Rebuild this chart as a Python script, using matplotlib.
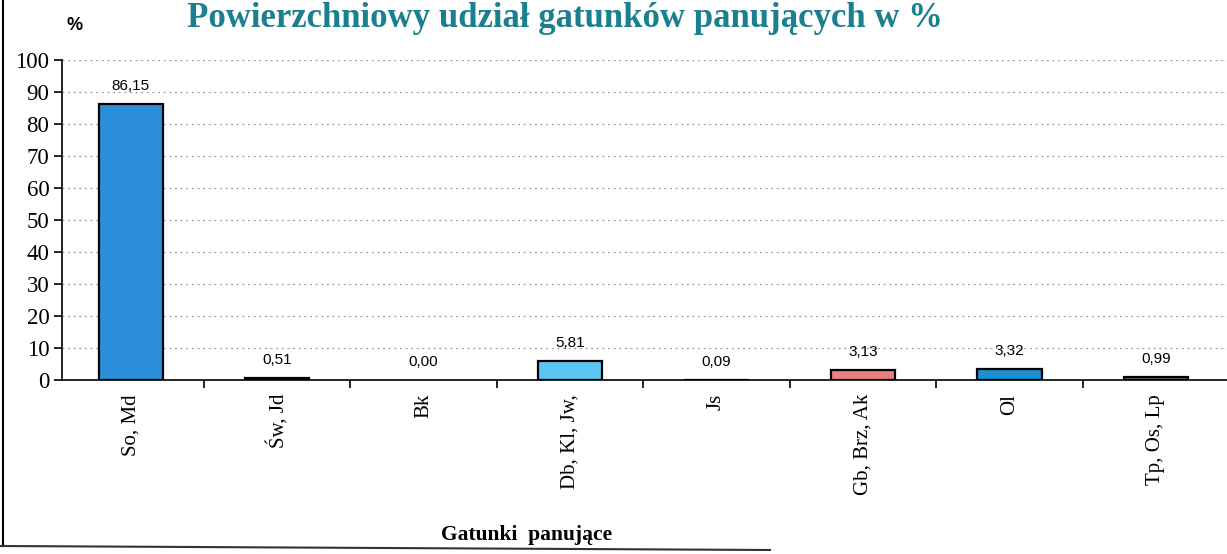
import matplotlib
matplotlib.use('Agg')
import matplotlib.pyplot as plt
from matplotlib.lines import Line2D

# dane z wykresu
gatunki = ['So, Md', 'Św, Jd', 'Bk', 'Db, Kl, Jw,', 'Js', 'Gb, Brz, Ak', 'Ol', 'Tp, Os, Lp']
udzial = [86.15, 0.51, 0.00, 5.81, 0.09, 3.13, 3.32, 0.99]
kolory = ['#2b8fdc', '#555555', '#555555', '#5cc6f0', '#555555', '#ea8080', '#1f8fd2', '#6e6e6e']
yticks = [0, 10, 20, 30, 40, 50, 60, 70, 80, 90, 100]

fig = plt.figure(figsize=(12.27, 5.54), dpi=100)
ax = fig.add_axes([62 / 1227, 1 - 380 / 554, 1167 / 1227, 320 / 554])

x = range(len(gatunki))
edges = [1.6 if v > 0 else 0 for v in udzial]
ax.bar(x, udzial, width=0.44, color=kolory, edgecolor='black', linewidth=edges, zorder=3)

for i, v in zip(x, udzial):
    ax.text(i, v + 3.5, ('%.2f' % v).replace('.', ','), ha='center', va='bottom',
            fontsize=11, family='Liberation Sans', zorder=4)

ax.set_xlim(-0.47, 7.5)
ax.set_ylim(0, 100)
ax.set_yticks(yticks)
ax.set_yticklabels([str(t) for t in yticks], family='Liberation Serif', fontsize=16.5)

# etykiety kategorii, kreski podziałki na granicach
ax.set_xticks([i + 0.5 for i in range(len(gatunki) - 1)])
ax.set_xticklabels([])
ax.set_xticks(list(x), minor=True)
ax.set_xticklabels(gatunki, minor=True, rotation=90, family='Liberation Serif', fontsize=15, va='top')
ax.tick_params(axis='x', which='minor', length=0, pad=10)
ax.tick_params(axis='x', which='major', direction='out', length=6, width=1.2)
ax.tick_params(axis='y', direction='out', length=6, width=1.2, pad=3)

for y in yticks[1:]:
    ax.axhline(y, color='#999999', linestyle=(0, (1.5, 3)), linewidth=0.9, zorder=1)

for s in ['top', 'right']:
    ax.spines[s].set_visible(False)
ax.spines['left'].set_linewidth(1.2)
ax.spines['bottom'].set_linewidth(1.2)

fig.text(565 / 1227, 1 - 2 / 554, 'Powierzchniowy udział gatunków panujących w %', ha='center',
         va='top', fontsize=25, fontweight='bold', family='Liberation Serif', color='#1a7f8e')
fig.text(75 / 1227, 1 - 26 / 554, '%', ha='center', va='center', fontsize=13,
         fontweight='bold', family='Liberation Sans')
fig.text(527 / 1227, 1 - 535 / 554, 'Gatunki  panujące', ha='center', va='center', fontsize=15.5,
         fontweight='bold', family='Liberation Serif')

# ramka obszaru wykresu
fig.add_artist(Line2D([3 / 1227, 3 / 1227], [1, 1 - 546 / 554], color='black', linewidth=1.5))
fig.add_artist(Line2D([0, 770 / 1227], [1 - 546 / 554, 1 - 550 / 554], color='#333333', linewidth=1.5))

fig.savefig('out.png', dpi=100)
